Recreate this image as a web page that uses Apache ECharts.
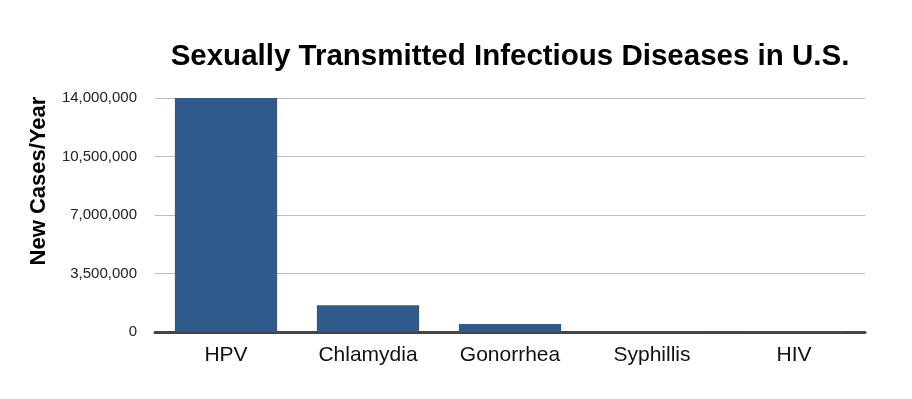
<!DOCTYPE html>
<html>
<head>
<meta charset="utf-8">
<script src="https://cdn.jsdelivr.net/npm/echarts@6/dist/echarts.min.js"></script>
<style>html,body{margin:0;padding:0;background:#fff;}#c{width:912px;height:399px;}</style>
</head>
<body>
<div id="c"></div>
<script>
const categories = ["HPV", "Chlamydia", "Gonorrhea", "Syphillis", "HIV"];
const newCases = [14000000, 1600000, 480000, 46000, 50000];
const yTicks = [0, 3500000, 7000000, 10500000, 14000000];
const yAxisTitle = "New Cases/Year";

const FONT = 'Liberation Sans, Arial, Helvetica, sans-serif';
const chart = echarts.init(document.getElementById('c'), null, {renderer: 'canvas'});
chart.setOption({
  animation: false,
  backgroundColor: '#ffffff',
  title: {
    text: 'Sexually Transmitted Infectious Diseases in U.S.',
    left: 505, top: 37, textAlign: 'center',
    textStyle: {fontFamily: FONT, fontSize: 29.5, fontWeight: 'bold', color: '#000'}
  },
  graphic: [{
    type: 'text', x: 39, y: 181, rotation: Math.PI / 2,
    style: {text: yAxisTitle, font: 'bold 22px ' + FONT, fill: '#000', align: 'center', verticalAlign: 'middle'}
  }],
  grid: {left: 155, right: 47, top: 98, bottom: 67, containLabel: false},
  xAxis: {
    type: 'category', data: categories,
    axisLine: {show: true, lineStyle: {color: '#444', width: 3}},
    axisTick: {show: false},
    axisLabel: {fontFamily: FONT, fontSize: 21, color: '#111', margin: 13}
  },
  yAxis: {
    type: 'value', min: yTicks[0], max: yTicks[yTicks.length - 1], interval: 3500000,
    axisLine: {show: false}, axisTick: {show: false},
    splitLine: {lineStyle: {color: '#bdbdbd', width: 1}},
    axisLabel: {
      fontFamily: FONT, fontSize: 15, color: '#222', margin: 18,
      formatter: v => v.toLocaleString('en-US')
    }
  },
  series: [{
    type: 'bar', data: newCases, barCategoryGap: '28%',
    itemStyle: {color: '#2f5a8b'}
  }]
});
</script>
</body>
</html>
